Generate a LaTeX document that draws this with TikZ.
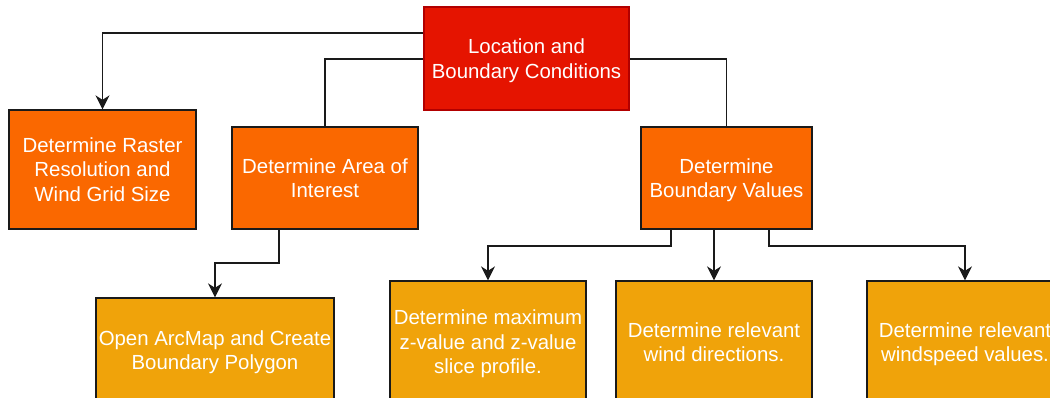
\documentclass[tikz,border=0pt]{standalone}
\usepackage{fontspec}
\setmainfont{Liberation Sans}
\usetikzlibrary{arrows.meta}
\definecolor{rootred}{HTML}{E51400}
\definecolor{rootline}{HTML}{B20000}
\definecolor{taskorange}{HTML}{FA6800}
\definecolor{stepamber}{HTML}{F0A30A}
\definecolor{edgeink}{HTML}{1A1A1A}

\begin{document}
\begin{tikzpicture}[x=1pt,y=-1pt,
  box/.style={draw=edgeink, line width=1.3pt, text=white, align=center,
    font=\fontsize{20.4}{24.4}\selectfont, inner sep=0pt, text depth=0pt},
  rootbox/.style={box, fill=rootred, draw=rootline},
  taskbox/.style={box, fill=taskorange},
  stepbox/.style={box, fill=stepamber},
  conn/.style={draw=edgeink, line width=1.4pt},
  arrowconn/.style={conn, -{Stealth[length=14pt,width=14pt,inset=4.5pt]}}]

\useasboundingbox (0,0) rectangle (1050,398);
\fill[white] (0,0) rectangle (1050,398);
\clip (0,0) rectangle (1050,398);

% top level
\node[rootbox, minimum width=205pt, minimum height=103pt] (root) at (526.5,58.5)
  {Location and\\Boundary Conditions};

% second level
\node[taskbox, minimum width=187pt, minimum height=119pt] (raster) at (102.5,169.5)
  {Determine Raster\\Resolution and\\Wind Grid Size};
\node[taskbox, minimum width=186pt, minimum height=102pt] (area) at (325,178)
  {Determine Area of\\Interest};
\node[taskbox, minimum width=171pt, minimum height=102pt] (bvals) at (726.5,178)
  {Determine\\Boundary Values};

% third level
\node[stepbox, minimum width=238pt, minimum height=104pt] (arcmap) at (215,350)
  {Open ArcMap and Create\\Boundary Polygon};
\node[stepbox, minimum width=196pt, minimum height=122pt] (zval) at (488,342)
  {Determine maximum\\z-value and z-value\\slice profile.};
\node[stepbox, minimum width=196pt, minimum height=122pt] (wdir) at (714,342)
  {Determine relevant\\wind directions.};
\node[stepbox, minimum width=196pt, minimum height=122pt] (wspd) at (965,342)
  {Determine relevant\\windspeed values.};

% connectors
\draw[arrowconn] (root.west |- 0,33) -| (raster.north);
\draw[conn] (root.west |- 0,59) -| (area.north);
\draw[conn] (root.east |- 0,59) -| (bvals.north);

\draw[arrowconn] (area.south -| 279,0) -- (279,263) -| (arcmap.north);

\draw[arrowconn] (bvals.south -| 671,0) -- (671,246) -| (zval.north);
\draw[arrowconn] (bvals.south -| 714,0) -- (wdir.north);
\draw[arrowconn] (bvals.south -| 769,0) -- (769,246) -| (wspd.north);
\end{tikzpicture}
\end{document}
